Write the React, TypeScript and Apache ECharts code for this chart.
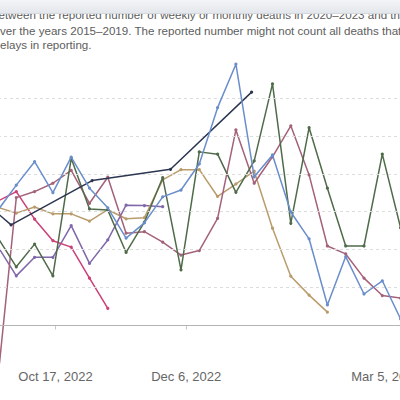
import React, { useEffect, useRef } from "react";
import * as echarts from "echarts";

// Weekly reporting dates (week ending)
const weekDates = [
  "2022-09-25", "2022-10-02", "2022-10-09", "2022-10-16", "2022-10-23", "2022-10-30",
  "2022-11-06", "2022-11-13", "2022-11-20", "2022-11-27", "2022-12-04", "2022-12-11",
  "2022-12-18", "2022-12-25", "2023-01-01", "2023-01-08", "2023-01-15", "2023-01-22",
  "2023-01-29", "2023-02-05", "2023-02-12", "2023-02-19", "2023-02-26",
];
// Monthly reporting dates
const monthDates = ["2022-08-31", "2022-09-30", "2022-10-31", "2022-11-30", "2022-12-31"];

// Excess mortality, %
const blueValues = [30.4, 37.0, 43.2, 35.0, 44.4, 36.2, 31.0, 23.0, 27.0, 33.9, 35.7, 42.6, 57.5, 69.0, 39.2, 45.0, 29.9, 22.8, 5.3, 18.1, 8.2, 11.7, 1.6];
const greenValues = [23.0, 15.4, 21.4, 13.0, 44.1, 30.7, 30.4, 19.2, 27.2, 39.0, 14.6, 45.8, 45.2, 35.1, 43.4, 63.8, 26.9, 52.2, 36.2, 20.9, 20.9, 45.2, 25.7];
const roseValues = [-14, 33.7, 35.3, 37.5, 40.9, 32.2, 39.1, 24.3, 24.7, 21.9, 18.5, 19.7, 28.2, 51.6, 37.5, 44.5, 52.7, 39.7, 20.9, 18.8, 12.4, 7.8, 7.1];
const tanValues = [31.1, 29.6, 31.2, 29.4, 29.4, 27.5, 30.5, 28.1, 28.4, 38.4, 41.1, 41.1, 34.0, 37.3, 40.7, 25.6, 12.9, 7.9, 3.4];
const pinkValues = [32.8, 35.3, 28.0, 22.3, 20.6, 12.4, 4.4];
const purpleValues = [20.7, 13.0, 17.9, 17.9, 26.3, 16.3, 22.5, 31.7, 31.6, 31.3];
const navyValues = [44.2, 26.5, 38.2, 41.2, 61.6];

const gridValues = [10, 20, 30, 40, 50, 60];
const zeroValue = 0;

const xTickDates = ["2022-10-17", "2022-12-06", "2023-03-05"];
const xTickLabels = ["Oct 17, 2022", "Dec 6, 2022", "Mar 5, 2023"];

const subtitleLines = [
  "between the reported number of weekly or monthly deaths in 2020–2023 and the",
  "ver the years 2015–2019. The reported number might not count all deaths that",
  "elays in reporting.",
];

const ORIGIN = "2022-09-25";
const DAY = 86400000;
// day offset from ORIGIN
const toDay = (s: string) => {
  const [y, m, d] = s.split("-").map(Number);
  const [oy, om, od] = ORIGIN.split("-").map(Number);
  return Math.round((Date.UTC(y, m - 1, d) - Date.UTC(oy, om - 1, od)) / DAY);
};
const pairs = (dates: string[], vals: number[]) => vals.map((v, i) => [toDay(dates[i]), v]);

export default function App() {
  const ref = useRef<HTMLDivElement>(null);
  useEffect(() => {
    if (!ref.current) return;
    const chart = echarts.init(ref.current, undefined, { renderer: "svg" });
    const xMin = 0;
    const xMax = 169.07;
    const tickDays = xTickDates.map(toDay);
    const font = "Liberation Sans, Arial, sans-serif";

    const mk = (name: string, color: string, data: any[], z: number) => ({
      name,
      type: "line",
      data,
      z,
      clip: true,
      symbol: "circle",
      symbolSize: 3.2,
      showSymbol: true,
      lineStyle: { color, width: 1.5 },
      itemStyle: { color },
      emphasis: { disabled: true },
    });

    chart.setOption({
      animation: false,
      textStyle: { fontFamily: font },
      grid: { left: -2, right: -40, top: 60.4, bottom: 37.2, outerBoundsMode: "none", containLabel: false },
      xAxis: {
        type: "value",
        min: xMin,
        max: xMax,
        axisLine: { show: false },
        splitLine: { show: false },
        axisTick: { show: true, customValues: tickDays, length: 4.5, lineStyle: { color: "#c8c8c8" } },
        axisLabel: {
          customValues: tickDays,
          margin: 7,
          color: "#666",
          fontSize: 13,
          fontFamily: font,
          formatter: (v: number) => {
            const idx = tickDays.findIndex((t) => Math.abs(t - v) < 0.5);
            if (idx < 0) return "";
            if (idx === xTickLabels.length - 1) return "{shift|" + xTickLabels[idx] + "}";
            return xTickLabels[idx];
          },
          rich: { shift: { padding: [0, 66, 0, 0], color: "#666", fontSize: 13, fontFamily: font } },
        },
      },
      yAxis: {
        type: "value",
        min: -10,
        max: 70,
        show: false,
        splitLine: { show: false },
      },
      series: [
        {
          type: "line",
          data: [],
          z: 1,
          silent: true,
          markLine: {
            silent: true,
            symbol: "none",
            label: { show: false },
            animation: false,
            data: [
              ...gridValues.map((v) => ({ yAxis: v, lineStyle: { color: "#dcdcdc", type: [3, 3], width: 1 } })),
              { yAxis: zeroValue, lineStyle: { color: "#b4b4b4", type: "solid", width: 1 } },
            ],
          },
        },
        mk("Purple", "#7f67aa", pairs(weekDates, purpleValues), 3),
        mk("Pink", "#cc3f78", pairs(weekDates, pinkValues), 3),
        mk("Tan", "#b99c6b", pairs(weekDates, tanValues), 3),
        mk("Rose", "#a3617a", pairs(weekDates, roseValues), 4),
        mk("Green", "#4f6b49", pairs(weekDates, greenValues), 4),
        mk("Navy", "#2c3651", pairs(monthDates, navyValues), 5),
        mk("Blue", "#6a8ecb", pairs(weekDates, blueValues), 5),
      ],
      graphic: [
        ...subtitleLines.map((t, i) => ({
          type: "text",
          x: i === 0 ? -8 : 0,
          y: (i === 0 ? 14 : 15.5) + i * 14.7,
          z: 10,
          style: { text: t, fill: "#5d5d5d", font: "11.6px " + font, verticalAlign: "middle", align: "left" },
        })),
        {
          type: "rect",
          shape: { x: 0, y: 0, width: 400, height: 13.5 },
          z: 20,
          style: {
            fill: new echarts.graphic.LinearGradient(0, 0, 0, 1, [
              { offset: 0, color: "#f3f4f6" },
              { offset: 1, color: "#e3e6eb" },
            ]),
          },
        },
        {
          type: "line",
          shape: { x1: 0, y1: 13.5, x2: 400, y2: 13.5 },
          z: 21,
          style: { stroke: "#d3d7de", lineWidth: 1 },
        },
      ],
    });
    return () => chart.dispose();
  }, []);
  return (
    <div
      ref={ref}
      style={{ position: "fixed", left: 0, top: 0, width: 400, height: 400, background: "#fff" }}
    />
  );
}
